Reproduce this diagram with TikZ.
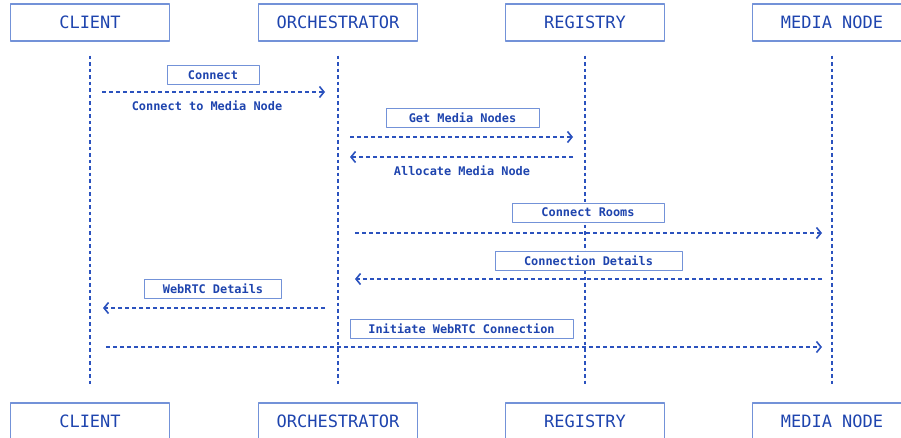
\documentclass[tikz,border=0pt]{standalone}
\usepackage{fontspec}
\setmonofont{DejaVu Sans Mono}
\usetikzlibrary{arrows.meta,calc}
\definecolor{ink}{HTML}{1E44AE}
\definecolor{frame}{HTML}{7392D8}
\definecolor{wire}{HTML}{2B52BE}
\tikzset{
  actor/.style={draw=frame, line width=1.1pt, minimum width=159pt, minimum height=37pt,
    inner sep=0pt, text=ink, font=\ttfamily\fontsize{17}{17}\selectfont},
  tag/.style={draw=frame, fill=white, line width=1pt, minimum height=19pt, inner sep=0pt,
    text=ink, font=\ttfamily\bfseries\fontsize{11.9}{12}\selectfont},
  note/.style={inner sep=0pt, text=ink, font=\ttfamily\bfseries\fontsize{11.9}{12}\selectfont},
  life/.style={draw=wire, line width=2pt, dash pattern=on 3.5pt off 3pt,
    shorten <=14pt, shorten >=18pt},
  msg/.style={draw=wire, line width=1.8pt, dash pattern=on 4pt off 3pt,
    -{Straight Barb[length=4.5pt,width=11pt,line width=1.6pt]}},
}
\begin{document}
\begin{tikzpicture}[x=1pt, y=-1pt, line join=round, line cap=butt]
  %Khung hình.
  \useasboundingbox (0,0) rectangle (901,437);
  \clip (0,0) rectangle (901,437);
  %Các đối tượng và đường đời.
  \foreach \n/\t/\x in {cli/CLIENT/90, orc/ORCHESTRATOR/338, reg/REGISTRY/585, med/MEDIA NODE/832}{
    \node[actor] (\n-top) at (\x,22.5) {\t};
    \node[actor] (\n-bot) at (\x,421.5) {\t};
    \draw[life] (\n-top) -- (\n-bot);
  }
  %Các thông điệp.
  \node[tag, minimum width=92pt] (connect) at (213,75) {Connect};
  \draw[msg] ([xshift=12pt]cli-top.center |- 0,92) -- ([xshift=-13pt]orc-top.center |- 0,92);
  \node[note] (connectmn) at (207,106) {Connect to Media Node};

  \node[tag, minimum width=153pt] (getnodes) at (462.5,117.5) {Get Media Nodes};
  \draw[msg] ([xshift=12pt]orc-top.center |- 0,137) -- ([xshift=-12pt]reg-top.center |- 0,137);
  \draw[msg] ([xshift=-12pt]reg-top.center |- 0,157) -- ([xshift=12pt]orc-top.center |- 0,157);
  \node[note] (allocate) at (462,170.5) {Allocate Media Node};

  \node[tag, minimum width=152pt] (rooms) at (588,212.5) {Connect Rooms};
  \draw[msg] ([xshift=17pt]orc-top.center |- 0,233) -- ([xshift=-10pt]med-top.center |- 0,233);

  \node[tag, minimum width=187pt] (details) at (588.5,261) {Connection Details};
  \draw[msg] ([xshift=-10pt]med-top.center |- 0,279) -- ([xshift=17pt]orc-top.center |- 0,279);

  \node[tag, minimum width=137pt] (webrtc) at (213,289) {WebRTC Details};
  \draw[msg] ([xshift=-13pt]orc-top.center |- 0,308) -- ([xshift=13pt]cli-top.center |- 0,308);

  \node[tag, minimum width=223pt] (initiate) at (461.5,328.5) {Initiate WebRTC Connection};
  \draw[msg] ([xshift=16pt]cli-top.center |- 0,347) -- ([xshift=-10pt]med-top.center |- 0,347);
\end{tikzpicture}
\end{document}
